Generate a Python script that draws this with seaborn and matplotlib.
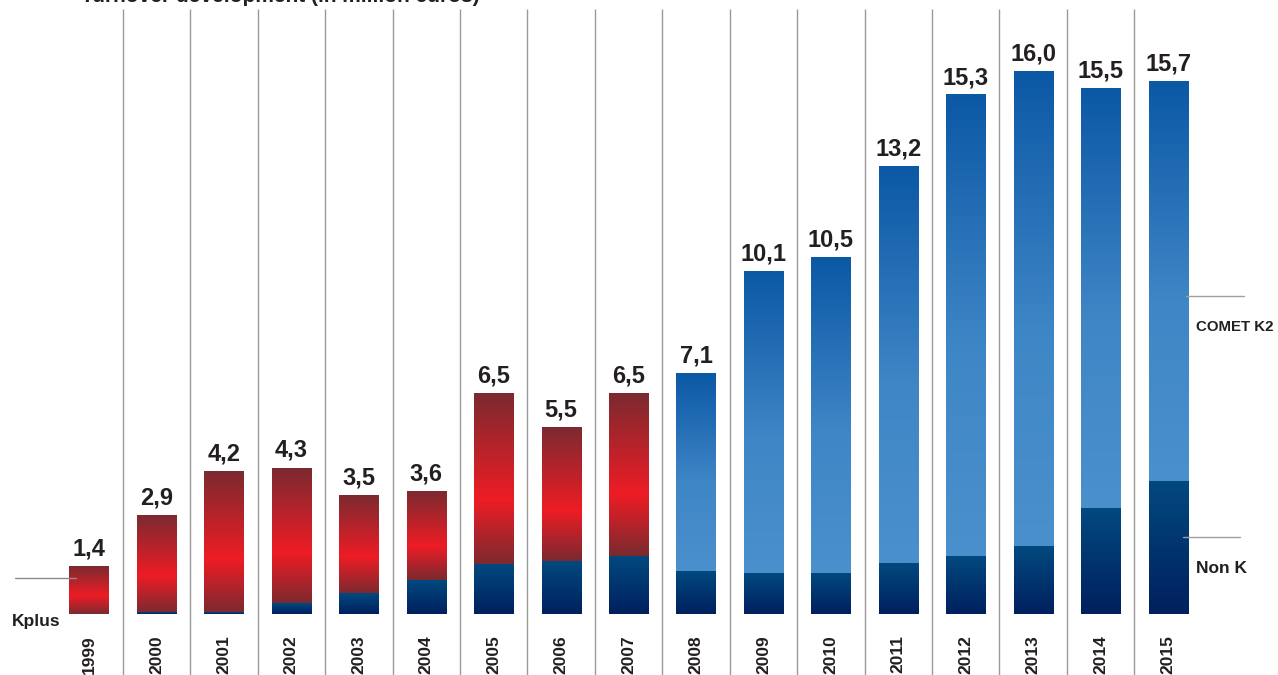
import numpy as np
import pandas as pd
import matplotlib
matplotlib.use("Agg")
import matplotlib.pyplot as plt
from matplotlib.colors import LinearSegmentedColormap
import seaborn as sns

# Turnover (million euros) per year, split into Non K and the programme share
years = ["1999", "2000", "2001", "2002", "2003", "2004", "2005", "2006", "2007",
         "2008", "2009", "2010", "2011", "2012", "2013", "2014", "2015"]
totals = [1.4, 2.9, 4.2, 4.3, 3.5, 3.6, 6.5, 5.5, 6.5,
          7.1, 10.1, 10.5, 13.2, 15.3, 16.0, 15.5, 15.7]
non_k = [0.0, 0.03, 0.03, 0.3, 0.6, 1.0, 1.45, 1.55, 1.7,
         1.25, 1.2, 1.2, 1.5, 1.7, 2.0, 3.1, 3.9]
programme = ["Kplus"] * 9 + ["COMET K2"] * 8
value_labels = ["1,4", "2,9", "4,2", "4,3", "3,5", "3,6", "6,5", "5,5", "6,5",
                "7,1", "10,1", "10,5", "13,2", "15,3", "16,0", "15,5", "15,7"]

df = pd.DataFrame({"year": years, "total": totals, "non_k": non_k,
                   "programme": programme})

sns.set_theme(style="white")
plt.rcParams["font.family"] = ["Liberation Sans", "DejaVu Sans"]
FONT = dict(family=["Liberation Sans", "DejaVu Sans"], fontweight="bold",
            color="#231f20")

fig = plt.figure(figsize=(12.78, 6.75), dpi=100)
ax = fig.add_axes([0, 0, 1, 1])

BAR_W = 0.58
sns.barplot(data=df, x="year", y="total", color="#4a8fcb", width=BAR_W,
            ax=ax, zorder=2)
sns.barplot(data=df, x="year", y="non_k", color="#013a73", width=BAR_W,
            ax=ax, zorder=3)

ax.axis("off")

red_cmap = LinearSegmentedColormap.from_list(
    "kplus", [(0.0, "#7b2a30"), (0.62, "#ee1c25"), (1.0, "#7a2a30")])
blue_cmap = LinearSegmentedColormap.from_list(
    "comet", [(0.0, "#0b58a5"), (0.55, "#3f86c6"), (1.0, "#4a90cc")])
nonk_cmap = LinearSegmentedColormap.from_list(
    "nonk", [(0.0, "#02497f"), (1.0, "#00205e")])

grad = np.linspace(0, 1, 256).reshape(-1, 1)

n = len(years)
total_bars = ax.patches[:n]
nonk_bars = ax.patches[n:2 * n]

for i, (tb, nb) in enumerate(zip(total_bars, nonk_bars)):
    x0, w = tb.get_x(), tb.get_width()
    top, split = tb.get_height(), nb.get_height()
    cmap = red_cmap if df.programme[i] == "Kplus" else blue_cmap
    # upper segment: from the Non K share up to the total
    ax.imshow(grad, cmap=cmap, aspect="auto", origin="upper",
              extent=(x0, x0 + w, split, top), zorder=4,
              interpolation="bilinear")
    if split > 0:
        ax.imshow(grad, cmap=nonk_cmap, aspect="auto", origin="upper",
                  extent=(x0, x0 + w, 0, split), zorder=5,
                  interpolation="bilinear")
    tb.set_visible(False)
    nb.set_visible(False)
    ax.annotate(value_labels[i], (i, top), xytext=(0, 4.5),
                textcoords="offset points", ha="center", va="bottom",
                fontsize=17, **FONT)
    ax.text(i, -1.19, years[i], rotation=90, ha="center", va="center",
            fontsize=12.5, **FONT)

# thin separators between years
for i in range(n - 1):
    ax.plot([i + 0.5, i + 0.5], [-1.80, 17.85], color="#9a9a9a", lw=1.0,
            zorder=1, solid_capstyle="butt")

ax.set_xlim(-1.32, 17.63)
ax.set_ylim(-1.80, 18.11)

# series call-outs
ax.plot([-1.10, -0.19], [1.06, 1.06], color="#8c8c8c", lw=1.0, zorder=6)
ax.text(-1.15, -0.22, "Kplus", ha="left", va="center", fontsize=12.5, **FONT)

ax.plot([16.27, 17.12], [9.38, 9.38], color="#a0a0a0", lw=1.0, zorder=6)
ax.text(16.42, 8.46, "COMET K2", ha="left", va="center", fontsize=10.8, **FONT)

ax.plot([16.22, 17.07], [2.27, 2.27], color="#a0a0a0", lw=1.0, zorder=6)
ax.text(16.42, 1.33, "Non K", ha="left", va="center", fontsize=12.5, **FONT)

fig.text(0.063, 1 - 1.5 / 675, "Turnover development (in million euros)",
         ha="left", va="baseline", fontsize=15, **FONT)

fig.savefig("out.png", dpi=100)
